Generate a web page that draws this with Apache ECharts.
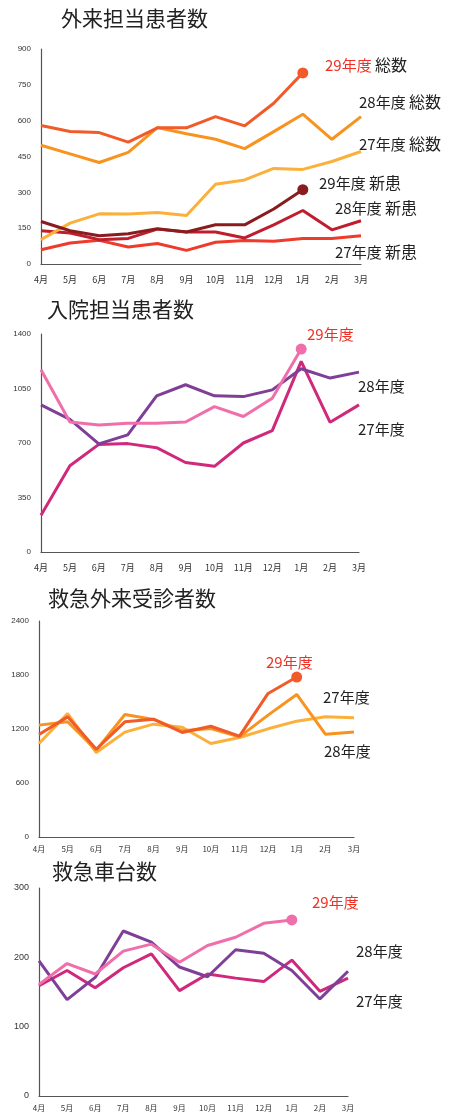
<!DOCTYPE html>
<html>
<head>
<meta charset="utf-8">
<script src="https://cdn.jsdelivr.net/npm/echarts@6/dist/echarts.min.js"></script>
<style>
  html, body { margin: 0; padding: 0; background: #fff; }
  #main { width: 451px; height: 1115px; }
</style>
</head>
<body>
<div id="main"></div>
<script>
// 月ラベル
var months = ['4月', '5月', '6月', '7月', '8月', '9月', '10月', '11月', '12月', '1月', '2月', '3月'];

// 外来担当患者数
var gairai29Total = [580, 555, 550, 510, 570, 570, 617, 578, 673, 800];
var gairai28Total = [497, 461, 425, 467, 571, 545, 522, 483, 554, 627, 522, 617];
var gairai27Total = [102, 171, 210, 209, 216, 203, 334, 352, 400, 396, 429, 471];
var gairai29New = [178, 139, 118, 127, 148, 134, 164, 164, 230, 311];
var gairai28New = [139, 130, 102, 107, 146, 134, 134, 109, 164, 224, 143, 181];
var gairai27New = [60, 88, 99, 71, 86, 57, 91, 98, 95, 107, 107, 118];

// 入院担当患者数
var nyuin29 = [1170, 835, 816, 827, 827, 835, 934, 870, 988, 1303];
var nyuin28 = [945, 852, 694, 752, 1003, 1074, 1003, 998, 1041, 1177, 1117, 1155];
var nyuin27 = [236, 554, 691, 696, 670, 575, 550, 700, 779, 1224, 833, 945];

// 救急外来受診者数
var kyukyu29 = [1139, 1335, 975, 1280, 1309, 1161, 1231, 1120, 1595, 1777];
var kyukyu28 = [1243, 1280, 964, 1361, 1306, 1180, 1205, 1113, 1354, 1584, 1142, 1168];
var kyukyu27 = [1039, 1372, 938, 1165, 1254, 1220, 1039, 1105, 1202, 1287, 1335, 1324];

// 救急車台数
var kyukyusha29 = [161, 191, 176, 209, 219, 193, 217, 229, 249, 254];
var kyukyusha28 = [195, 139, 171, 238, 222, 186, 172, 211, 206, 181, 140, 180];
var kyukyusha27 = [159, 181, 156, 185, 205, 152, 176, 170, 165, 196, 151, 170];

var FONT = 'Noto Sans CJK JP';

var grids = [
  { left: 41, top: 49, width: 320, height: 215 },
  { left: 41, top: 334, width: 318, height: 218 },
  { left: 39, top: 621, width: 315, height: 216 },
  { left: 39, top: 888, width: 309, height: 208 }
];
var yScales = [
  { max: 900, interval: 150 },
  { max: 1400, interval: 350 },
  { max: 2400, interval: 600 },
  { max: 300, interval: 100 }
];

var xAxes = grids.map(function (g, i) {
  return {
    type: 'category', gridIndex: i, data: months, boundaryGap: false,
    axisLine: { lineStyle: { color: '#555', width: 1.2 } },
    axisTick: { show: false },
    axisLabel: { color: '#333', fontSize: i < 2 ? 9 : 8, fontFamily: FONT, margin: i < 2 ? 11 : 8 }
  };
});
var yAxes = yScales.map(function (s, i) {
  return {
    type: 'value', gridIndex: i, min: 0, max: s.max, interval: s.interval,
    axisLine: { show: true, lineStyle: { color: '#555', width: 1.2 } },
    axisTick: { show: false },
    splitLine: { show: false },
    axisLabel: {
      color: '#333', fontSize: i === 3 ? 9 : 8, fontFamily: 'Liberation Sans', margin: 10,
      formatter: function (v) { return String(v); }
    }
  };
});

function line(data, color, idx, withDot) {
  var last = data.length - 1;
  return {
    type: 'line', xAxisIndex: idx, yAxisIndex: idx, data: data,
    lineStyle: { color: color, width: 3 },
    itemStyle: { color: color },
    symbol: 'circle',
    showSymbol: !!withDot,
    showAllSymbol: true,
    symbolSize: function (v, p) { return withDot && p.dataIndex === last ? 11 : 0; },
    silent: true, animation: false, z: withDot ? 5 : 3
  };
}

var series = [
  line(gairai27New, '#ef3b2c', 0),
  line(gairai28New, '#be1e2d', 0),
  line(gairai29New, '#891c1f', 0, true),
  line(gairai27Total, '#fbb03b', 0),
  line(gairai28Total, '#f7931e', 0),
  line(gairai29Total, '#f15a29', 0, true),

  line(nyuin27, '#d0287a', 1),
  line(nyuin28, '#7f3f98', 1),
  line(nyuin29, '#f06eaa', 1, true),

  line(kyukyu27, '#fbb03b', 2),
  line(kyukyu28, '#f7931e', 2),
  line(kyukyu29, '#f15a29', 2, true),

  line(kyukyusha27, '#d0287a', 3),
  line(kyukyusha28, '#7f3f98', 3),
  line(kyukyusha29, '#f06eaa', 3, true)
];

function title(text, x, y) {
  return { type: 'text', left: x, top: y, style: { text: text, font: '21px "' + FONT + '"', fill: '#222' } };
}
function label(year, word, x, y, red) {
  return {
    type: 'text', left: x, top: y,
    style: {
      text: '{y|' + year + '}' + (word ? ' {w|' + word + '}' : ''),
      rich: {
        y: { fontSize: 15, fontFamily: FONT, fill: red ? '#ee3124' : '#222' },
        w: { fontSize: 16, fontFamily: FONT, fill: '#222' }
      }
    }
  };
}

var option = {
  backgroundColor: '#fff',
  animation: false,
  grid: grids,
  xAxis: xAxes,
  yAxis: yAxes,
  series: series,
  graphic: [
    title('外来担当患者数', 61, 8),
    title('入院担当患者数', 47, 299),
    title('救急外来受診者数', 48, 588),
    title('救急車台数', 52, 861),

    label('29年度', '総数', 325, 57, true),
    label('28年度', '総数', 359, 94),
    label('27年度', '総数', 359, 136),
    label('29年度', '新患', 319, 175),
    label('28年度', '新患', 335, 200),
    label('27年度', '新患', 335, 244),

    label('29年度', '', 307, 327, true),
    label('28年度', '', 358, 379),
    label('27年度', '', 358, 422),

    label('29年度', '', 266, 655, true),
    label('27年度', '', 323, 690),
    label('28年度', '', 324, 744),

    label('29年度', '', 312, 895, true),
    label('28年度', '', 356, 944),
    label('27年度', '', 356, 994)
  ]
};

var myChart = echarts.init(document.getElementById('main'));
myChart.setOption(option);
</script>
</body>
</html>
